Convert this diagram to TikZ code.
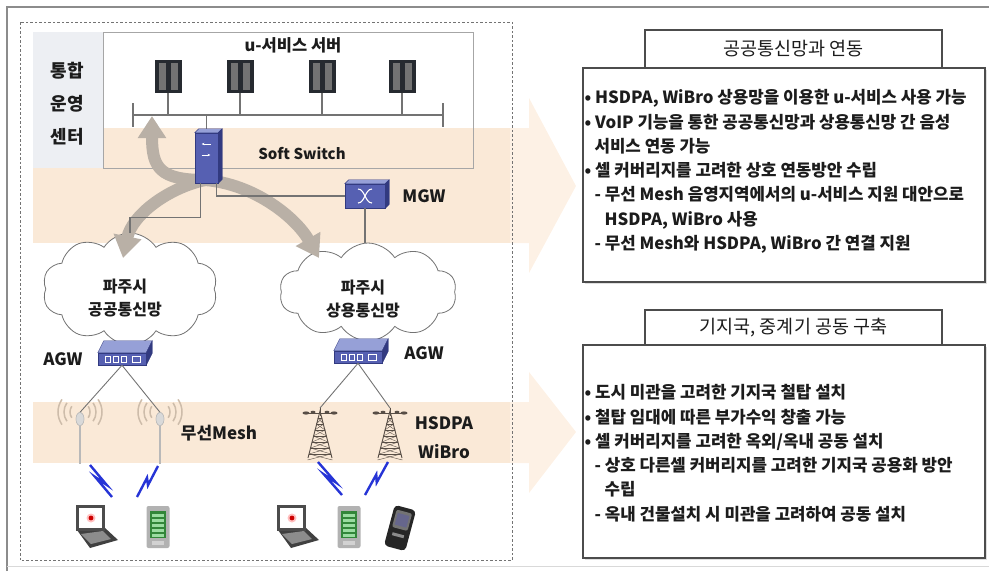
\documentclass[tikz,border=0pt]{standalone}
\usepackage{fontspec}
\setmainfont{Noto Sans CJK KR}
\usetikzlibrary{positioning,calc,shapes.symbols,shapes.geometric,arrows.meta,shadows}

\definecolor{bandpeach}{RGB}{250,233,215}
\definecolor{tippeach}{RGB}{253,241,229}
\definecolor{ctrgray}{RGB}{237,239,243}
\definecolor{flowgray}{RGB}{185,176,166}
\definecolor{swblue}{RGB}{86,96,178}
\definecolor{swlight}{RGB}{150,160,215}
\definecolor{swdark}{RGB}{50,58,128}
\definecolor{srvdark}{RGB}{38,42,48}
\definecolor{boltblue}{RGB}{38,52,214}
\definecolor{wavetan}{RGB}{205,188,170}
\definecolor{towerbrown}{RGB}{88,78,70}
\definecolor{pdagreen}{RGB}{72,192,82}
\definecolor{inktxt}{RGB}{28,28,28}

\begin{document}
\begin{tikzpicture}[x=1pt, y=-1pt,
    lbl/.style={font=\fontsize{17}{17}\selectfont\bfseries, text=inktxt, inner sep=0pt},
    link/.style={draw=black!55, line width=1.3pt},
    flow/.style={draw=flowgray, line width=12pt, -{Triangle[length=22pt, width=27pt]}},
    server/.style={rectangle, minimum width=27pt, minimum height=33pt, inner sep=0pt, fill=srvdark,
        path picture={
            \fill[black!55] ([xshift=4pt, yshift=-3pt]path picture bounding box.north west)
                rectangle ([xshift=11pt, yshift=3pt]path picture bounding box.south west);
            \fill[black!55] ([xshift=-11pt, yshift=-3pt]path picture bounding box.north east)
                rectangle ([xshift=-4pt, yshift=3pt]path picture bounding box.south east);
        }},
    box3d/.style={rectangle, inner sep=0pt, fill=swblue, draw=swdark, line width=0.5pt},
    net/.style={cloud, cloud puffs=10, cloud puff arc=115, aspect=1.7, draw=black!55,
        line width=0.8pt, fill=white},
    netname/.style={lbl, align=center, font=\fontsize{16}{23}\selectfont\bfseries},
    apbulb/.style={ellipse, minimum width=8pt, minimum height=13pt, inner sep=0pt,
        fill=gray!30, draw=gray!60},
    pole/.style={draw=gray!55, line width=2.5pt},
    radio/.style={draw=wavetan, line width=1.5pt},
    zap/.style={draw=boltblue, line width=2.4pt, line join=miter},
    titlebox/.style={rectangle, draw=black!70, line width=1.3pt, fill=white,
        minimum width=297pt, font=\fontsize{18.5}{18.5}\selectfont, text=inktxt},
    infobox/.style={rectangle, draw=black!70, line width=1.3pt, fill=white, minimum width=402pt,
        drop shadow={shadow xshift=1.5pt, shadow yshift=-1.5pt, opacity=0.25}},
    info/.style={align=left, inner sep=0pt, anchor=north west,
        font=\fontsize{16.8}{24.3}\selectfont\bfseries, text=inktxt},
    % small pictures
    tower/.pic={
        \coordinate (-top) at (0,0);
        \draw[towerbrown, line width=0.9pt] (-12,50) -- (0,3) -- (12,50);
        \foreach \yy in {10,16,...,46} {
            \draw[towerbrown, line width=0.5pt] ({-0.24*\yy},\yy) -- ({0.24*\yy},\yy);
            \draw[towerbrown, line width=0.4pt] ({-0.24*\yy},\yy) -- ({0.24*(\yy+6)},{\yy+6});
            \draw[towerbrown, line width=0.4pt] ({0.24*\yy},\yy) -- ({-0.24*(\yy+6)},{\yy+6});
        }
        \draw[towerbrown, line width=1pt] (0,0) -- (0,8);
        \draw[towerbrown, line width=1pt] (-15,5) -- (15,5);
        \fill[towerbrown] (-14,5) ellipse (3.5 and 1.6);
        \fill[towerbrown] (14,5) ellipse (3.5 and 1.6);
        \fill[towerbrown] (-7,4) ellipse (2.5 and 1.3);
        \fill[towerbrown] (7,4) ellipse (2.5 and 1.3);
    },
    laptop/.pic={
        \fill[black!75] (-14,12) -- (13,9) -- (27,22) -- (-1,30) -- cycle;
        \fill[black!45] (-10,16) -- (12,13) -- (20,21) -- (0,26) -- cycle;
        \fill[black!70] (-15,-13) rectangle (14,13);
        \fill[white] (-12,-10) rectangle (11,10);
        \fill[red!25] (0,0) circle (4.5);
        \fill[red!80!black] (0,0) circle (2.4);
    },
    pda/.pic={
        \fill[gray!60, rounded corners=2pt] (-11.5,-21) rectangle (11.5,21);
        \fill[pdagreen!70!black] (-8,-16) rectangle (8,11);
        \foreach \yy in {-13,-8,...,7} \fill[pdagreen!55!white] (-6,\yy) rectangle (6,{\yy+2.5});
        \fill[gray!35] (-6,14) rectangle (6,18);
    },
    handset/.pic={
        \fill[black!85, rounded corners=4pt] (-11,-21) rectangle (11,21);
        \fill[black!55, rounded corners=2pt] (-8,-17) rectangle (8,1);
        \fill[blue!25!black!60] (-6,-14) rectangle (6,-2);
        \fill[black!45] (-6,6) rectangle (6,9);
    }
  ]
    \useasboundingbox (0,0) rectangle (989,571);

    % Frame
    \draw[black!45, line width=2pt] (7,571) -- (7,7) -- (989,7);
    \draw[black!15, line width=1pt] (7,566) -- (989,566);

    % Bands, each running out into an arrow
    \fill[bandpeach] (33,128) rectangle (510,243);
    \fill[bandpeach] (33,402) rectangle (510,463);
    \fill[tippeach] (510,128) -- (529,128) -- (529,98) -- (576,186) -- (529,273)
        -- (529,243) -- (510,243) -- cycle;
    \fill[tippeach] (510,402) -- (529,402) -- (529,372) -- (576,432) -- (529,493)
        -- (529,463) -- (510,463) -- cycle;

    % Operation centre
    \fill[ctrgray] (33,32) rectangle (103,168);
    \draw[black!35, line width=1pt] (103,32) rectangle (473,168);
    \node[lbl, align=center, font=\fontsize{18}{33}\selectfont\bfseries] (ctr) at (67,104) {통합\\운영\\센터};
    \node[lbl, font=\fontsize{16.5}{16.5}\selectfont\bfseries] (srvname) at (293,45) {u-서비스 서버};

    \draw[black!55, line width=1pt, dash pattern=on 2.5pt off 2pt] (20,22) rectangle (512,560);

    % Servers on the bus
    \foreach \x [count=\i] in {168,240,322,402}
        \node[server] (s\i) at (\x,76) {};
    \coordinate (busL) at (133,115);
    \coordinate (busR) at (443,115);
    \draw[link] (busL) -- (busR);
    \draw[link] ($(busL)+(0,-12)$) -- ($(busL)+(0,12)$);
    \draw[link] ($(busR)+(0,-12)$) -- ($(busR)+(0,12)$);
    \foreach \i in {1,...,4}
        \draw[link] (s\i.south) -- (s\i.south |- busL);

    % Networks
    \node[net, minimum width=175pt, minimum height=112pt] (pubnet) at (130,289) {};
    \node[net, minimum width=177pt, minimum height=98pt] (comnet) at (368,292) {};
    \node[netname] (pubname) at (125,298) {파주시\\공공통신망};
    \node[netname] (comname) at (363,299) {파주시\\상용통신망};

    % Call flows through the soft switch
    \coordinate (fsrc) at (205,180);
    \coordinate (fup) at (152,116);
    \coordinate (fpub) at (123,258);
    \coordinate (fcom) at (319,258);
    \draw[flow] (fsrc) .. controls (160,180) and (152,168) .. (fup);
    \draw[flow] (fsrc) .. controls (168,188) and (132,215) .. (fpub);
    \draw[flow] (fsrc) .. controls (255,184) and (296,218) .. (fcom);

    % Switches and gateways
    \node[box3d, minimum width=23pt, minimum height=50pt] (ss) at (206.5,158) {};
    \node[box3d, minimum width=40pt, minimum height=24pt] (mgw) at (365,196) {};
    \node[box3d, minimum width=48pt, minimum height=12pt] (agw1) at (122,359) {};
    \node[box3d, minimum width=48pt, minimum height=12pt] (agw2) at (358,357) {};

    % Access points and towers
    \node[apbulb] (ap1) at (80,419) {};
    \node[apbulb] (ap2) at (160,419) {};
    \pic (tw1) at (320,408) {tower};
    \pic (tw2) at (390,408) {tower};

    % Links
    \draw[link] (ss.north) -- (ss.north |- busL);
    \draw[link] ([xshift=-6pt]ss.south) -- ++(0,34) -| (pubnet.north);
    \draw[link] ([xshift=10pt]ss.south) |- (mgw.west);
    \draw[link] (mgw.south) -- (mgw.south |- comnet.north);
    \draw[link, line width=0.9pt] (agw1.south) -- (ap1.north);
    \draw[link, line width=0.9pt] (agw1.south) -- (ap2.north);
    \draw[link, line width=0.9pt] (agw2.south) -- (tw1-top);
    \draw[link, line width=0.9pt] (agw2.south) -- (tw2-top);

    % Top and side faces of the boxes
    \foreach \n/\dx/\dy in {ss/4/4, mgw/4/4, agw1/6/12, agw2/6/12} {
        \fill[swlight, draw=swdark, line width=0.4pt] (\n.north west) -- ($(\n.north west)+(\dx,-\dy)$)
            -- ($(\n.north east)+(\dx,-\dy)$) -- (\n.north east) -- cycle;
        \fill[swdark, draw=swdark, line width=0.4pt] (\n.north east) -- ($(\n.north east)+(\dx,-\dy)$)
            -- ($(\n.south east)+(\dx,-\dy)$) -- (\n.south east) -- cycle;
    }
    \draw[white, line width=1pt, -{Stealth[length=3pt]}] ($(ss.center)+(4,-14)$) -- ($(ss.center)+(-5,-14)$);
    \draw[white, line width=1pt, -{Stealth[length=3pt]}] ($(ss.center)+(-5,-3)$) -- ($(ss.center)+(4,-3)$);
    \draw[white, line width=1.1pt] ($(mgw.center)+(-7,-7)$) .. controls ($(mgw.center)+(0,-7)$)
        and ($(mgw.center)+(0,7)$) .. ($(mgw.center)+(7,7)$);
    \draw[white, line width=1.1pt] ($(mgw.center)+(-7,7)$) .. controls ($(mgw.center)+(0,7)$)
        and ($(mgw.center)+(0,-7)$) .. ($(mgw.center)+(7,-7)$);
    \foreach \n in {agw1,agw2} {
        \foreach \dx in {-17,-9,-1}
            \draw[white, line width=1pt] ($(\n.center)+(\dx,-3)$) rectangle ($(\n.center)+(\dx+5,3)$);
        \draw[white, line width=0.8pt] ($(\n.center)+(10,-3)$) rectangle ($(\n.center)+(18,3)$);
    }

    % Radio masts
    \foreach \a in {ap1,ap2} {
        \draw[pole] (\a.south) -- ++(0,38);
        \foreach \r in {10,16,22} {
            \draw[radio] ($(\a.center)+(0,-7)+(-35:\r)$) arc[start angle=-35, end angle=35, radius=\r];
            \draw[radio] ($(\a.center)+(0,-7)+(145:\r)$) arc[start angle=145, end angle=215, radius=\r];
        }
    }
    \node[apbulb] at (ap1) {};
    \node[apbulb] at (ap2) {};

    % Wireless hops to the terminals
    \coordinate (z1a) at (90,465);  \coordinate (z1b) at (112,497);
    \coordinate (z2a) at (158,466); \coordinate (z2b) at (137,497);
    \coordinate (z3a) at (318,462); \coordinate (z3b) at (342,495);
    \coordinate (z4a) at (388,462); \coordinate (z4b) at (365,495);
    \foreach \a/\b in {z1a/z1b, z2a/z2b, z3a/z3b, z4a/z4b}
        \draw[zap] (\a) -- ($(\a)!0.62!(\b)+(3,0)$) -- ($(\a)!0.38!(\b)+(-3,0)$) -- (\b);

    % Terminals
    \pic at (91,518) {laptop};
    \pic at (158,527) {pda};
    \pic at (292,518) {laptop};
    \pic at (349,527) {pda};
    \pic[rotate=-15] at (400,528) {handset};

    % Labels
    \node[lbl, font=\fontsize{15}{15}\selectfont\bfseries] (sslbl) at (302,153) {Soft Switch};
    \node[lbl, right=17pt of mgw] (mgwlbl) {MGW};
    \node[lbl, left=15pt of agw1] (agw1lbl) {AGW};
    \node[lbl, right=22pt of agw2, yshift=4pt] (agw2lbl) {AGW};
    \node[lbl] (meshlbl) at (219,433) {무선Mesh};
    \node[lbl, align=center, font=\fontsize{17}{29}\selectfont\bfseries] (celllbl) at (444,438) {HSDPA\\WiBro};

    % Public network interworking
    \node[titlebox, minimum height=38pt] (pubttl) at (793.5,49) {공공통신망과 연동};
    \node[infobox, minimum height=214pt] (pubbox) at (784,175) {};
    \node[info] (pubtxt) at ($(pubbox.north west)+(2,22)$) {%
        • HSDPA, WiBro 상용망을 이용한 u-서비스 사용 가능\\
        • VoIP 기능을 통한 공공통신망과 상용통신망 간 음성\\
        \hspace*{10pt}서비스 연동 가능\\
        • 셀 커버리지를 고려한 상호 연동방안 수립\\
        \hspace*{10pt}- 무선 Mesh 음영지역에서의 u-서비스 지원 대안으로\\
        \hspace*{20pt}HSDPA, WiBro 사용\\
        \hspace*{10pt}- 무선 Mesh와 HSDPA, WiBro 간 연결 지원};

    % Shared base stations
    \node[titlebox, minimum height=35pt] (bsttl) at (793.5,327.5) {기지국, 중계기 공동 구축};
    \node[infobox, minimum height=213pt] (bsbox) at (784,451.5) {};
    \node[info] (bstxt) at ($(bsbox.north west)+(2,40)$) {%
        • 도시 미관을 고려한 기지국 철탑 설치\\
        • 철탑 임대에 따른 부가수익 창출 가능\\
        • 셀 커버리지를 고려한 옥외/옥내 공동 설치\\
        \hspace*{10pt}- 상호 다른셀 커버리지를 고려한 기지국 공용화 방안\\
        \hspace*{20pt}수립\\
        \hspace*{10pt}- 옥내 건물설치 시 미관을 고려하여 공동 설치};
\end{tikzpicture}
\end{document}
